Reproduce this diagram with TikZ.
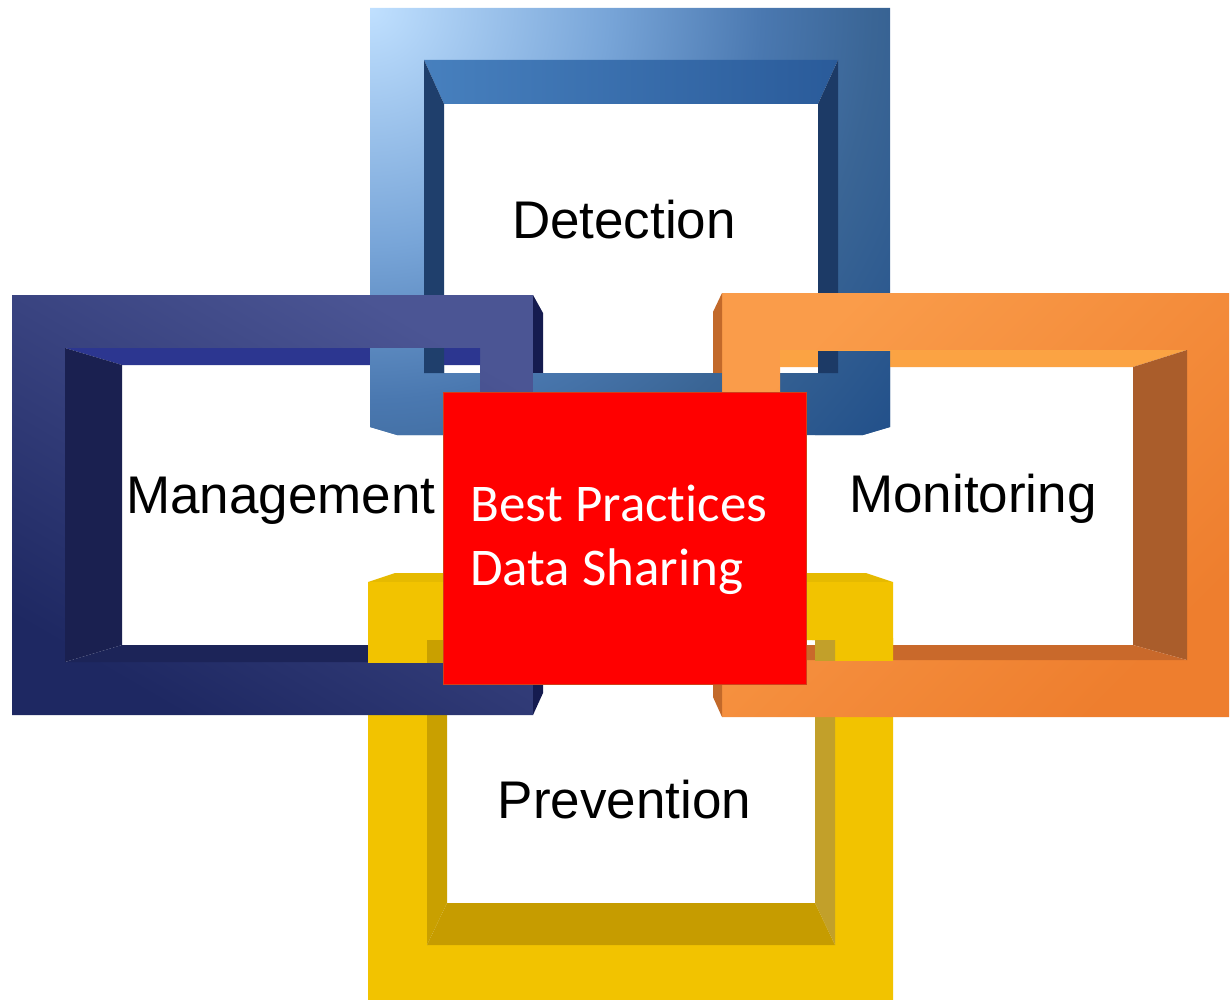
\documentclass[tikz,border=0pt]{standalone}
\usepackage{fontspec}
\setmainfont{Liberation Sans}
\newfontfamily\corefont[Ligatures=NoCommon]{Carlito}
\definecolor{detA}{HTML}{C0E0FF}
\definecolor{detB}{HTML}{78A5D8}
\definecolor{detC}{HTML}{4A78B0}
\definecolor{detD}{HTML}{3A6595}
\definecolor{detE}{HTML}{22508A}
\definecolor{detTopL}{HTML}{4780BE}
\definecolor{detTopR}{HTML}{2A5B9A}
\definecolor{detWallL}{HTML}{1F3F6C}
\definecolor{detWallR}{HTML}{1C3A66}
\definecolor{mgLight}{HTML}{4B5594}
\definecolor{mgDark}{HTML}{1E2862}
\definecolor{mgSide}{HTML}{151B4F}
\definecolor{mgTop}{HTML}{2C3690}
\definecolor{mgLeft}{HTML}{1A2050}
\definecolor{mgBot}{HTML}{1C2458}
\definecolor{moLight}{HTML}{FA9C4A}
\definecolor{moDark}{HTML}{EE7E2E}
\definecolor{moSide}{HTML}{C2692A}
\definecolor{moTop}{HTML}{FBA343}
\definecolor{moRight}{HTML}{AA5D2B}
\definecolor{moBot}{HTML}{C9692B}
\definecolor{pvFace}{HTML}{F2C300}
\definecolor{pvSide}{HTML}{E6BA00}
\definecolor{pvLeft}{HTML}{C9A000}
\definecolor{pvRight}{HTML}{C2A02A}
\definecolor{pvBot}{HTML}{C69C00}
\definecolor{coreRed}{HTML}{FF0000}
\definecolor{coreEdge}{HTML}{D0401A}
\pgfdeclareradialshading{detshade}{\pgfpoint{0bp}{0bp}}{color(0bp)=(detA); color(8.5bp)=(detB); color(14bp)=(detC); color(18bp)=(detD); color(24bp)=(detE); color(50bp)=(detE)}

\newcommand\DetFrame{%
  \begin{scope}[even odd rule]
    \clip (370,8) -- (890,8) -- (890,427) -- (863,435) -- (397,435) -- (370,427) -- cycle (424,60) rectangle (838,373);
    \shade[shading=detshade] (370,8) circle[radius=700pt];
  \end{scope}
  \shade[left color=detTopL, right color=detTopR] (424,60) -- (838,60) -- (818,104) -- (444,104) -- cycle;
  \fill[detWallL] (424,60) -- (444,104) -- (444,373) -- (424,373) -- cycle;
  \fill[detWallR] (838,60) -- (818,104) -- (818,373) -- (838,373) -- cycle;
}
\newcommand\MgmtFrame{%
  \shade[even odd rule, top color=mgLight, bottom color=mgDark, shading angle=-30] (12,295) rectangle (533,715) (65,348) rectangle (480,662);
  \fill[mgSide] (533,295) -- (543,313) -- (543,693) -- (533,715) -- cycle;
  \fill[mgTop] (65,348) -- (480,348) -- (480,365) -- (122,365) -- cycle;
  \fill[mgLeft] (65,348) -- (122,365) -- (122,645) -- (65,662) -- cycle;
  \fill[mgBot] (65,662) -- (122,645) -- (480,645) -- (480,662) -- cycle;
}
\newcommand\MonFrame{%
  \shade[even odd rule, top color=moLight, bottom color=moDark, shading angle=45] (722,293) rectangle (1229,717) (780,350) rectangle (1187,660);
  \fill[moSide] (713,312) -- (722,293) -- (722,717) -- (713,697) -- cycle;
  \fill[moTop] (780,350) -- (1187,350) -- (1133,367) -- (780,367) -- cycle;
  \fill[moRight] (1187,350) -- (1133,367) -- (1133,645) -- (1187,660) -- cycle;
  \fill[moBot] (780,645) -- (1133,645) -- (1187,660) -- (780,660) -- cycle;
}
\newcommand\PrevFrame{%
  \fill[pvSide] (368,582) -- (395,573) -- (866,573) -- (893,582) -- cycle;
  \fill[even odd rule, pvFace] (368,582) rectangle (893,1000) (427,640) rectangle (835,945);
  \fill[pvLeft] (427,640) -- (447,640) -- (447,903) -- (427,945) -- cycle;
  \fill[pvRight] (815,640) -- (835,640) -- (835,945) -- (815,903) -- cycle;
  \fill[pvBot] (427,945) -- (447,903) -- (815,903) -- (835,945) -- cycle;
}

\tikzset{
  lbl/.style={font=\fontsize{53}{63}\selectfont, text=black, inner sep=0pt},
  coretext/.style={font=\corefont\fontsize{53}{64}\selectfont, text=white, inner sep=0pt},
  corebox/.style={fill=coreRed, draw=coreEdge, line width=0.8pt, minimum width=363pt, minimum height=292pt, inner sep=0pt}
}

\begin{document}
\begin{tikzpicture}[x=1pt,y=-1pt]
\useasboundingbox (0,0) rectangle (1230,1000);
\DetFrame
\PrevFrame
\MgmtFrame
\MonFrame
\begin{scope}\clip (368,348) rectangle (446,440); \DetFrame\end{scope}
\begin{scope}\clip (533.5,370) rectangle (546,440); \DetFrame\end{scope}
\begin{scope}\clip (710,370) rectangle (721.5,440); \DetFrame\end{scope}
\begin{scope}\clip (815,351) rectangle (893,440); \DetFrame\end{scope}
\begin{scope}\clip (360,638) rectangle (450,662); \PrevFrame\end{scope}
\begin{scope}\clip (812,638) rectangle (895,660); \PrevFrame\end{scope}
\node[corebox] (core) at (624.5,538) {};
\node[coretext, anchor=base west] (core1) at (470,521) {Best Practices};
\node[coretext, anchor=base west] (core2) at (470,585) {Data Sharing};
\node[lbl, anchor=base] (det) at (624,238) {Detection};
\node[lbl, anchor=base] (mgmt) at (281,513) {Management};
\node[lbl, anchor=base] (mon) at (973,512) {Monitoring};
\node[lbl, anchor=base] (prev) at (624.5,818) {Prevention};
\end{tikzpicture}
\end{document}
